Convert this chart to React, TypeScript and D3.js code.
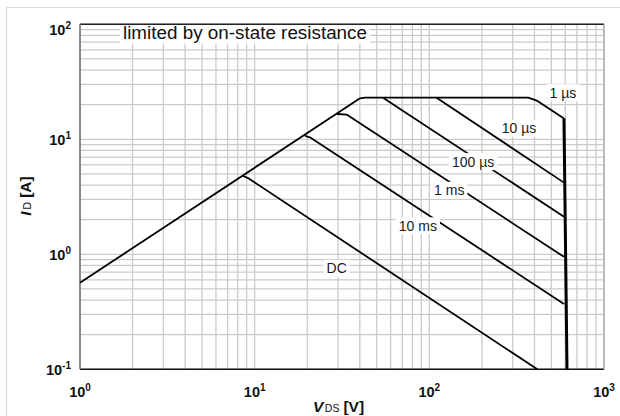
import React, { useEffect, useRef } from "react";
import * as d3 from "d3";

// ---- data (V_DS [V], I_D [A]) ----
const xDomain: [number, number] = [1, 1000];
const yDomain: [number, number] = [0.1, 100];
const xTickExps = [0, 1, 2, 3];
const yTickExps = [-1, 0, 1, 2];

const rdsLimit: [number, number][] = [[1, 0.566], [40.1, 22.7], [42.8, 23.0]];
const envelope1us: [number, number][] = [[42.8, 23.0], [369, 23.0], [412, 21.7], [590, 15.2]];
const breakdown: [number, number][] = [[590, 15.2], [614, 0.1]];
const curve10us: [number, number][] = [[110, 23.0], [590, 4.2]];
const curve100us: [number, number][] = [[54.3, 23.0], [590, 2.12]];
const curve1ms: [number, number][] = [[29.7, 16.6], [33.6, 16.4], [590, 0.95]];
const curve10ms: [number, number][] = [[19.4, 10.7], [20.7, 10.4], [590, 0.37]];
const curveDC: [number, number][] = [[8.6, 4.8], [9.16, 4.6], [415, 0.1]];

const curveLabels = ["1 µs", "10 µs", "100 µs", "1 ms", "10 ms", "DC"];
const labelV = [582, 326, 178, 130, 86, 29.5];
const labelI = [25.4, 12.5, 6.4, 3.6, 1.77, 0.755];

const annotation = "limited by on-state resistance";

const W = 620, H = 416;
const M = { left: 80, right: 604, top: 24.3, bottom: 369.3 };

export default function App() {
  const ref = useRef<SVGSVGElement>(null);
  useEffect(() => {
    const svg = d3.select(ref.current);
    svg.selectAll("*").remove();
    const x = d3.scaleLog().domain(xDomain).range([M.left, M.right]);
    const y = d3.scaleLog().domain(yDomain).range([M.bottom, M.top]);
    const font = "'Liberation Sans', Arial, Helvetica, sans-serif";

    svg.append("rect").attr("width", W).attr("height", H).attr("fill", "#fff");
    // outer frame
    svg.append("path").attr("d", `M6.5,${H} V7.5 H${W}`).attr("fill", "none").attr("stroke", "#dcdcdc").attr("stroke-width", 1.2);

    const g = svg.append("g");
    // grid
    const xMinor: number[] = [];
    for (let e = 0; e < 3; e++) for (let k = 1; k <= 9; k++) xMinor.push(k * Math.pow(10, e));
    xMinor.push(1000);
    const yMinor: number[] = [];
    for (let e = -1; e < 2; e++) for (let k = 1; k <= 9; k++) yMinor.push(k * Math.pow(10, e));
    yMinor.push(100);
    g.selectAll(".gx").data(xMinor).enter().append("line")
      .attr("x1", d => x(d)).attr("x2", d => x(d)).attr("y1", M.top).attr("y2", M.bottom)
      .attr("stroke", "#cbcbcb").attr("stroke-width", 1.3);
    g.selectAll(".gy").data(yMinor).enter().append("line")
      .attr("y1", d => y(d)).attr("y2", d => y(d)).attr("x1", M.left).attr("x2", M.right)
      .attr("stroke", "#cbcbcb").attr("stroke-width", 1.3);

    // frame
    g.append("line").attr("x1", M.left).attr("x2", M.right).attr("y1", M.top).attr("y2", M.top).attr("stroke", "#222").attr("stroke-width", 1.4);
    g.append("line").attr("x1", M.left).attr("x2", M.right).attr("y1", M.bottom).attr("y2", M.bottom).attr("stroke", "#111").attr("stroke-width", 1.6);
    g.append("line").attr("x1", M.left).attr("x2", M.left).attr("y1", M.top).attr("y2", M.bottom).attr("stroke", "#777").attr("stroke-width", 1.6);
    g.append("line").attr("x1", M.right).attr("x2", M.right).attr("y1", M.top).attr("y2", M.bottom).attr("stroke", "#aaa").attr("stroke-width", 1.3);

    // curves
    const line = d3.line<[number, number]>().x(d => x(d[0])).y(d => y(d[1]));
    const series = [rdsLimit, envelope1us, curve10us, curve100us, curve1ms, curve10ms, curveDC];
    series.forEach(s => {
      g.append("path").attr("d", line(s)).attr("fill", "none").attr("stroke", "#000")
        .attr("stroke-width", 1.8).attr("stroke-linejoin", "round");
    });
    g.append("path").attr("d", line(breakdown)).attr("fill", "none").attr("stroke", "#000").attr("stroke-width", 3);

    // curve labels with white boxes
    curveLabels.forEach((t, i) => {
      const cx = x(labelV[i]), cy = y(labelI[i]);
      const bg = g.append("rect").attr("fill", "#fff");
      const txt = g.append("text").attr("x", cx).attr("y", cy + 5).attr("text-anchor", "middle")
        .attr("font-family", font).attr("font-size", 14).attr("fill", "#1a1a1a").text(t);
      const bb = (txt.node() as SVGTextElement).getBBox();
      bg.attr("x", bb.x - 3).attr("y", cy - 8.5).attr("width", bb.width + 6).attr("height", 17);
    });

    // annotation
    const ann = g.append("text").attr("x", 123).attr("y", 38.5).attr("font-family", font)
      .attr("font-size", 17.5).attr("fill", "#111").attr("textLength", 244).attr("lengthAdjust", "spacingAndGlyphs").text(annotation);
    const ab = (ann.node() as SVGTextElement).getBBox();
    g.insert("rect", "text").attr("x", ab.x - 3).attr("y", M.top + 1).attr("width", ab.width + 6).attr("height", ab.y + ab.height - M.top).attr("fill", "#fff");

    // y tick labels
    yTickExps.forEach(e => {
      const ty = y(Math.pow(10, e));
      const t = g.append("text").attr("x", 71).attr("y", Math.max(ty + 6, M.top + 10.7)).attr("text-anchor", "end")
        .attr("font-family", font).attr("font-weight", "bold").attr("font-size", 14.5).attr("fill", "#111");
      t.append("tspan").text("10");
      t.append("tspan").attr("dy", -6).attr("font-size", 10).text(String(e));
    });
    // x tick labels
    xTickExps.forEach(e => {
      const tx = x(Math.pow(10, e));
      const t = g.append("text").attr("x", tx).attr("y", 397).attr("text-anchor", "middle")
        .attr("font-family", font).attr("font-weight", "bold").attr("font-size", 14.5).attr("fill", "#111");
      t.append("tspan").text("10");
      t.append("tspan").attr("dy", -6).attr("font-size", 10).text(String(e));
    });

    // axis titles
    const xt = g.append("text").attr("x", 313).attr("y", 411.5).attr("font-family", font).attr("font-size", 15.5).attr("fill", "#111");
    xt.append("tspan").attr("font-weight", "bold").attr("font-style", "italic").text("V");
    xt.append("tspan").attr("font-size", 10.5).attr("dx", 1.5).text("DS");
    xt.append("tspan").attr("font-weight", "bold").attr("dx", 4).text("[V]");

    const yt = g.append("text").attr("transform", `translate(30.5,196) rotate(-90)`).attr("text-anchor", "middle")
      .attr("font-family", font).attr("font-size", 15.5).attr("fill", "#111");
    yt.append("tspan").attr("font-weight", "bold").attr("font-style", "italic").text("I");
    yt.append("tspan").attr("font-size", 10.5).attr("dx", 2).text("D");
    yt.append("tspan").attr("font-weight", "bold").attr("dx", 4).text("[A]");
  }, []);
  return (
    <svg ref={ref} width={W} height={H} style={{ position: "absolute", left: 0, top: 0, display: "block" }} />
  );
}
